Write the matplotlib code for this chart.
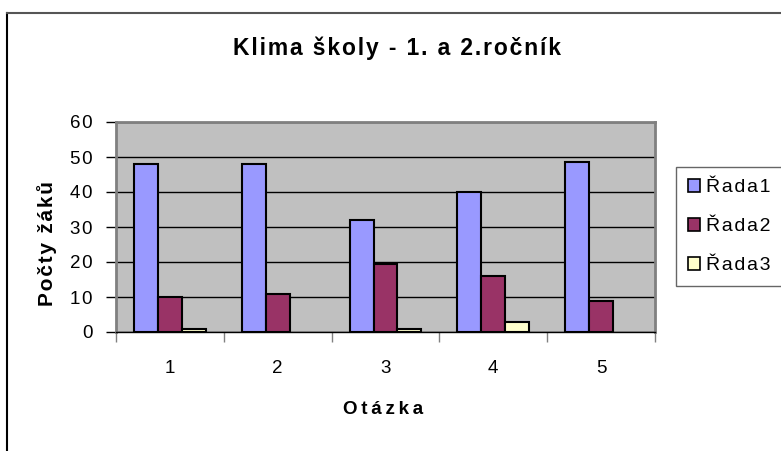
import matplotlib
matplotlib.use("Agg")
import matplotlib.pyplot as plt
import numpy as np
from matplotlib.patches import Patch
from matplotlib.lines import Line2D

plt.rcParams['font.family'] = ['Liberation Sans', 'DejaVu Sans']

# data
otazky = ['1', '2', '3', '4', '5']
rada1 = [48, 48, 32, 40, 48.5]
rada2 = [10, 11, 19.5, 16, 9]
rada3 = [1, 0, 1, 3, 0]
serie = ['Řada1', 'Řada2', 'Řada3']
barvy = ['#9999FF', '#993366', '#FFFFCC']


def rozpal(s, mezera='\u2009'):
    # Excel draws this chart with wide letter spacing
    return mezera.join(s)


W, H = 781, 451
fig = plt.figure(figsize=(W / 100, H / 100), dpi=100)

# outer chart border (left + top edges visible)
fig.add_artist(Line2D([7 / W, 7 / W], [0, 1 - 13 / H], color='black', lw=1.5,
                      transform=fig.transFigure))
fig.add_artist(Line2D([7 / W, 1], [1 - 13 / H, 1 - 13 / H], color='#555555', lw=1.5,
                      transform=fig.transFigure))

ax = fig.add_axes([116 / W, 1 - 332 / H, (655 - 116) / W, (332 - 122) / H])
ax.set_facecolor('#C0C0C0')

x = np.arange(1, len(otazky) + 1)
w = 1 / 4.5  # Excel gap width 150 %
for i, (vals, c) in enumerate(zip([rada1, rada2, rada3], barvy)):
    bars = ax.bar(x + (i - 1) * w, vals, width=w, color=c, edgecolor='black',
                  linewidth=1.5, zorder=3)
    for b, v in zip(bars, vals):
        if v == 0:
            b.set_visible(False)

ax.set_xlim(0.5, len(otazky) + 0.5)
ax.set_ylim(0, 60)
ax.set_yticks(range(0, 61, 10))
ax.yaxis.grid(True, color='black', linewidth=1, zorder=1)
ax.set_axisbelow(True)

# x ticks between categories, labels centred
ax.set_xticks(np.arange(0.5, len(otazky) + 1, 1))
ax.set_xticklabels([])
ax.set_xticks(x, minor=True)
ax.set_xticklabels(otazky, minor=True, fontsize=13.5)
ax.tick_params(axis='x', which='minor', length=0, pad=20)
ax.tick_params(axis='x', which='major', length=7, color='#808080', width=1)
ax.set_yticklabels([rozpal(str(v), '\u200a') for v in range(0, 61, 10)])
ax.tick_params(axis='y', length=7, width=1, color='black', labelsize=13.5, pad=10)

for s in ['left', 'right', 'top']:
    ax.spines[s].set_color('#808080')
    ax.spines[s].set_linewidth(2)
ax.spines['bottom'].set_color('black')
ax.spines['bottom'].set_linewidth(1)

fig.text(397 / W, 1 - 48 / H, rozpal('Klima školy - 1. a 2.ročník', '\u200a'),
         ha='center', va='center', fontsize=16.5, fontweight='bold')
fig.text(47 / W, 1 - 243 / H, rozpal('Počty žáků', '\u200a'), ha='center',
         va='center', rotation=90, fontsize=15, fontweight='bold')
fig.text(383 / W, 1 - 410 / H, rozpal('Otázka'), ha='center', va='center',
         fontsize=13.5, fontweight='bold')

handles = [Patch(facecolor=c, edgecolor='black', linewidth=1.2) for c in barvy]
leg = fig.legend(handles, [rozpal(s, '\u200a') for s in serie], loc='upper left',
                 bbox_to_anchor=(676 / W, 1 - 167 / H),
                 bbox_transform=fig.transFigure, fontsize=14, frameon=True,
                 fancybox=False, edgecolor='#404040', borderaxespad=0,
                 handlelength=0.65, handleheight=0.65, handletextpad=0.3,
                 labelspacing=1.12, borderpad=0.6)
leg.get_frame().set_linewidth(1)

fig.savefig('out.png', dpi=100)
